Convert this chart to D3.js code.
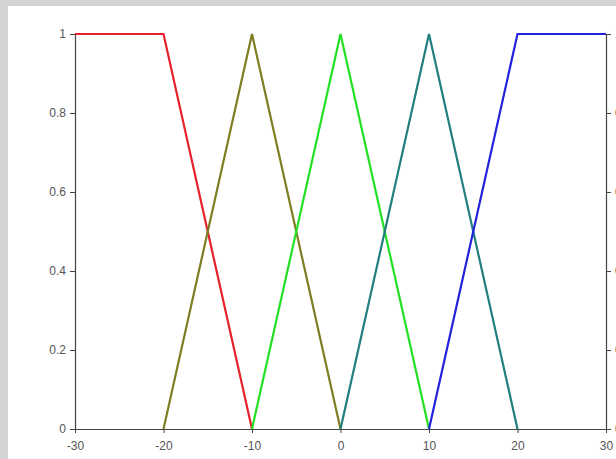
<!DOCTYPE html>
<html><head><meta charset="utf-8">
<script src="https://cdn.jsdelivr.net/npm/d3@7"></script>
<style>html,body{margin:0;padding:0;background:#fff;overflow:hidden}</style>
</head><body>
<script>
const xTicks = [-30, -20, -10, 0, 10, 20, 30];
const yTicks = [0, 0.2, 0.4, 0.6, 0.8, 1];
const seriesNames = ["NB", "NS", "ZE", "PS", "PB"];
const seriesX = [
  [-30, -20, -10],
  [-20, -10, 0],
  [-10, 0, 10],
  [0, 10, 20],
  [10, 20, 30]
];
const seriesY = [
  [1, 1, 0],
  [0, 1, 0],
  [0, 1, 0],
  [0, 1, 0],
  [0, 1, 1]
];
const colors = ["#e5222c", "#7d7d22", "#22e022", "#227f7f", "#2323dd"];

const W = 616, H = 459;
const svg = d3.select("body").append("svg").attr("width", W).attr("height", H);
svg.append("rect").attr("width", W).attr("height", H).attr("fill", "#d4d4d4");
svg.append("rect").attr("x", 8).attr("y", 6).attr("width", W - 8).attr("height", H - 6).attr("fill", "#fff");

const x = d3.scaleLinear().domain([-30, 30]).range([75, 606]);
const y = d3.scaleLinear().domain([0, 1]).range([429, 34]);

const fmt = d => String(d);
const font = "Liberation Sans, Arial, sans-serif";

function styleAxis(g) {
  g.selectAll("path").attr("stroke", "#444").attr("stroke-width", 1.2);
  g.selectAll("line").attr("stroke", "#444");
  g.selectAll("text").attr("fill", "#555").attr("font-family", font).attr("font-size", 12);
}

svg.append("g").attr("transform", `translate(0,${y(0)})`)
  .call(d3.axisBottom(x).tickValues(xTicks).tickFormat(fmt).tickSize(4).tickSizeOuter(0).tickPadding(8))
  .call(styleAxis);
svg.append("g").attr("transform", `translate(${x(-30)},0)`)
  .call(d3.axisLeft(y).tickValues(yTicks).tickFormat(fmt).tickSize(5).tickSizeOuter(0).tickPadding(4))
  .call(styleAxis);
svg.append("g").attr("transform", `translate(${x(30)},0)`)
  .call(d3.axisRight(y).tickValues(yTicks).tickFormat(fmt).tickSize(5).tickSizeOuter(0).tickPadding(4))
  .call(styleAxis);

const line = d3.line().x(d => x(d[0])).y(d => y(d[1]));
seriesNames.forEach((n, i) => {
  const pts = seriesX[i].map((v, j) => [v, seriesY[i][j]]);
  svg.append("path").datum(pts).attr("d", line)
    .attr("fill", "none").attr("stroke", colors[i]).attr("stroke-width", 2.2)
    .attr("stroke-linejoin", "miter");
});
</script>
</body></html>
